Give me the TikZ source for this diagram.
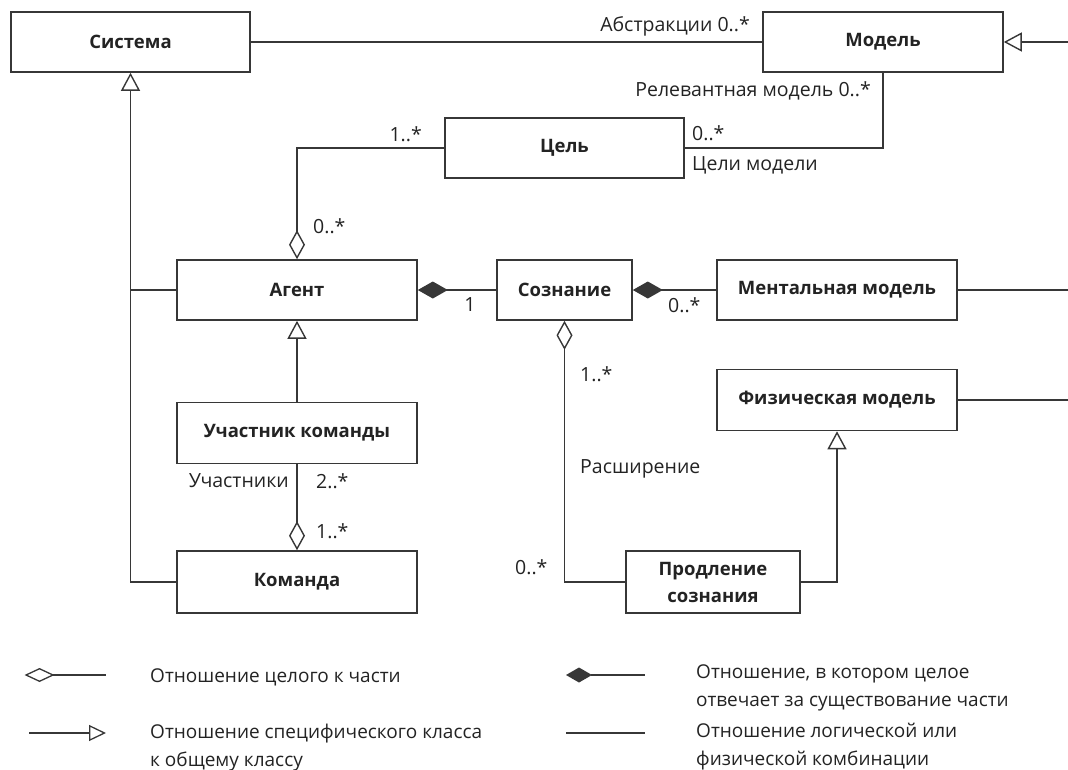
\documentclass[tikz,border=0pt]{standalone}
\usepackage{fontspec}
\setmainfont{Open Sans}
\usetikzlibrary{arrows.meta}
\definecolor{ln}{RGB}{55,55,55}
\definecolor{tx}{RGB}{35,35,35}
\begin{document}
\begin{tikzpicture}[x=1pt,y=-1pt,
  cls/.style={draw=ln, line width=1.6pt, fill=white, inner sep=0pt, text=tx,
     font=\fontsize{18.5}{27}\selectfont\bfseries, align=center},
  lbl/.style={inner sep=0pt, text=tx, font=\fontsize{19.5}{22}\selectfont},
  leg/.style={inner sep=0pt, text=tx, font=\fontsize{19}{28}\selectfont, align=left},
  conn/.style={draw=ln, line width=1.6pt},
  gen/.style={conn, -{Triangle[open, length=18pt, width=19pt, line width=1.4pt]}},
  agg/.style={conn, -{Diamond[open, length=29pt, width=16pt, line width=1.4pt]}},
  comp/.style={conn, {Diamond[length=30pt, width=17pt]}-},
]
\useasboundingbox (0,0) rectangle (1068,769);

% classes
\node[cls, minimum width=239pt, minimum height=60pt] (sys)    at (130.5,42) {Система};
\node[cls, minimum width=240pt, minimum height=60pt] (model)  at (883,42)   {Модель};
\node[cls, minimum width=239pt, minimum height=60pt] (goal)   at (564.5,148) {Цель};
\node[cls, minimum width=240pt, minimum height=60pt] (agent)  at (297,290)  {Агент};
\node[cls, minimum width=135pt, minimum height=60pt] (mind)   at (564.5,290) {Сознание};
\node[cls, minimum width=240pt, minimum height=60pt] (mental) at (837,290)  {Ментальная модель};
\node[cls, minimum width=240pt, minimum height=61pt] (phys)   at (837,400)  {Физическая модель};
\node[cls, minimum width=240pt, minimum height=61pt] (member) at (297,433)  {Участник команды};
\node[cls, minimum width=240pt, minimum height=62pt] (cmd)    at (297,582)  {Команда};
\node[cls, minimum width=174pt, minimum height=62pt] (ext)    at (713,582)  {Продление\\сознания};

\coordinate (mr) at (1068,42);
\coordinate (mentr) at (1068,290);
\coordinate (physr) at (1068,400);

% connectors
\draw[conn] (sys.east) -- (model.west);
\draw[gen] (mr) -- (model.east);
\draw[agg] (goal.west) -| (agent.north);
\draw[conn] (goal.east) -| (model.south);
\draw[gen] (cmd.west) -| (sys.south);
\draw[conn] (agent.west) -- (agent.west -| sys.south);
\draw[comp] (agent.east) -- (mind.west);
\draw[comp] (mind.east) -- (mental.west);
\draw[conn] (mental.east) -- (mentr);
\draw[conn] (phys.east) -- (physr);
\draw[gen] (member.north) -- (agent.south);
\draw[agg] (member.south) -- (cmd.north);
\draw[agg] (ext.west) -| (mind.south);
\draw[gen] (ext.east) -| (phys.south);

% labels
\node[lbl, anchor=east] (l1) at (750,26) {Абстракции 0..*};
\node[lbl, anchor=east] (l2) at (871,91) {Релевантная модель 0..*};
\node[lbl, anchor=west] (l3) at (692,133) {0..*};
\node[lbl, anchor=west] (l4) at (692,165) {Цели модели};
\node[lbl, anchor=east] (l5) at (422,134) {1..*};
\node[lbl, anchor=west] (l6) at (313,226) {0..*};
\node[lbl] (l7) at (470,305) {1};
\node[lbl, anchor=west] (l8) at (668,305) {0..*};
\node[lbl, anchor=west] (l9) at (580,374) {1..*};
\node[lbl, anchor=west] (l10) at (580,469) {Расширение};
\node[lbl, anchor=west] (l11) at (515,567) {0..*};
\node[lbl, anchor=east] (l12) at (289,481) {Участники};
\node[lbl, anchor=west] (l13) at (316,481) {2..*};
\node[lbl, anchor=west] (l14) at (316,531) {1..*};

% legend
\coordinate (la1) at (24.5,675); \coordinate (la2) at (106,675);
\draw[conn, line width=1.4pt, {Diamond[open, length=30pt, width=14pt, line width=1.3pt]}-] (la1) -- (la2);
\node[leg, anchor=west] (lt1) at (150,677) {Отношение целого к части};

\coordinate (lb1) at (29,733); \coordinate (lb2) at (106,733);
\draw[conn, line width=1.4pt, -{Triangle[open, length=17pt, width=16pt, line width=1.3pt]}] (lb1) -- (lb2);
\node[leg, anchor=west] (lt2) at (150,747.5) {Отношение специфического класса\\к общему классу};

\coordinate (lc1) at (566,675); \coordinate (lc2) at (645,675);
\draw[conn, line width=1.4pt, {Diamond[length=26pt, width=15pt]}-] (lc1) -- (lc2);
\node[leg, anchor=west] (lt3) at (696,688) {Отношение, в котором целое\\отвечает за существование части};

\coordinate (ld1) at (566,733); \coordinate (ld2) at (645,733);
\draw[conn, line width=1.4pt] (ld1) -- (ld2);
\node[leg, anchor=west] (lt4) at (696,747) {Отношение логической или\\физической комбинации};
\end{tikzpicture}
\end{document}
